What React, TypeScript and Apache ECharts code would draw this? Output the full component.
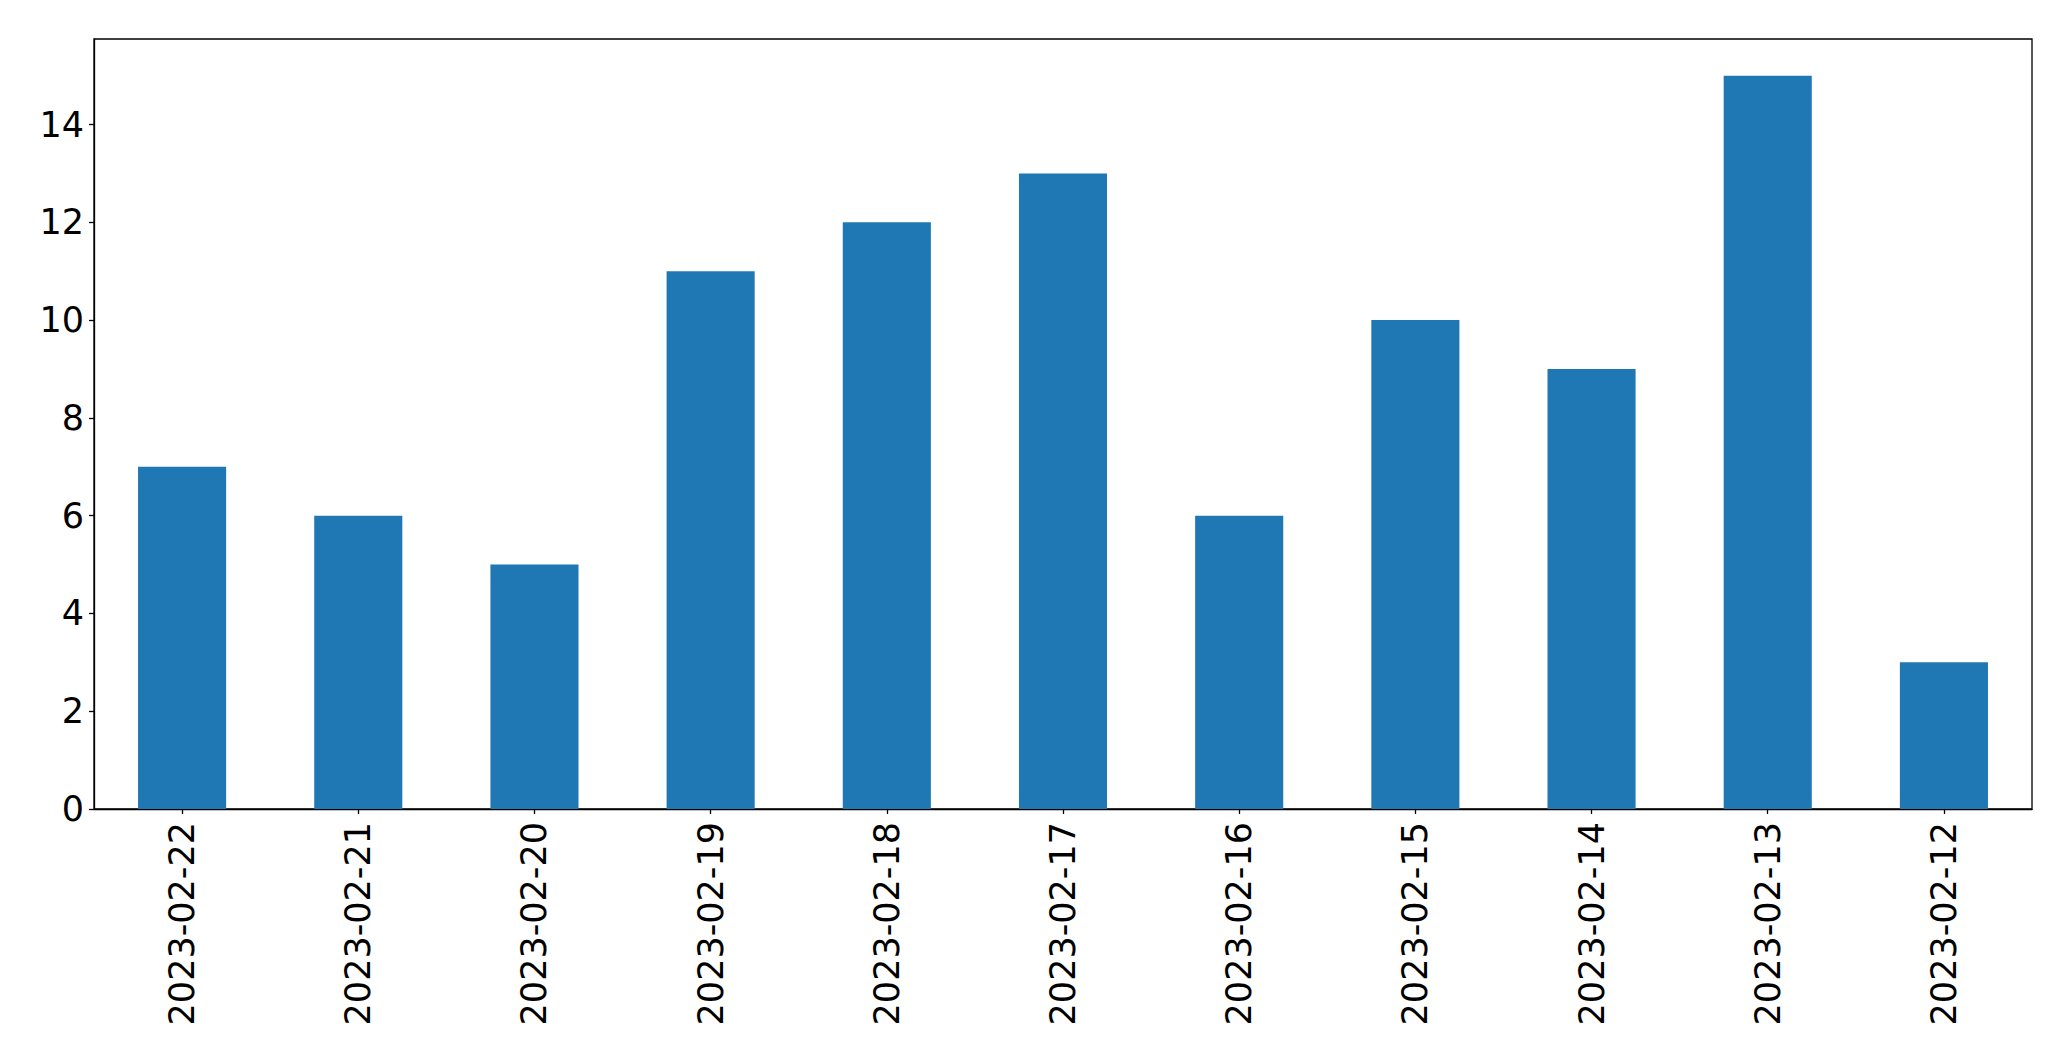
import React, { useEffect, useRef } from "react";
import * as echarts from "echarts";

const categories = [
  "2023-02-22", "2023-02-21", "2023-02-20", "2023-02-19", "2023-02-18",
  "2023-02-17", "2023-02-16", "2023-02-15", "2023-02-14", "2023-02-13", "2023-02-12",
];
const values = [7, 6, 5, 11, 12, 13, 6, 10, 9, 15, 3];
const yTicks = [0, 2, 4, 6, 8, 10, 12, 14];

export default function App() {
  const ref = useRef<HTMLDivElement>(null);
  useEffect(() => {
    if (!ref.current) return;
    const chart = echarts.init(ref.current, null, { renderer: "svg" });
    const font = "DejaVu Sans";
    chart.setOption({
      animation: false,
      backgroundColor: "#ffffff",
      grid: {
        left: 94,
        top: 39,
        right: 39,
        bottom: 252,
        show: true,
        borderColor: "#000000",
        borderWidth: 1.3,
        containLabel: false,
      },
      xAxis: {
        type: "category",
        data: categories,
        axisLine: { show: true, lineStyle: { color: "#000", width: 1.3 } },
        axisTick: { show: true, alignWithLabel: true, length: 5, lineStyle: { color: "#000", width: 1.3 } },
        axisLabel: {
          rotate: 90,
          interval: 0,
          margin: 13,
          fontFamily: font,
          fontSize: 35,
          color: "#000",
        },
        splitLine: { show: false },
      },
      yAxis: {
        type: "value",
        min: 0,
        max: 15.75,
        interval: 2,
        axisLine: { show: true, lineStyle: { color: "#000", width: 1.3 } },
        axisTick: { show: true, length: 5, lineStyle: { color: "#000", width: 1.3 } },
        axisLabel: {
          margin: 10,
          fontFamily: font,
          fontSize: 35,
          color: "#000",
          showMaxLabel: false,
          formatter: (v: number) => (yTicks.includes(v) ? String(v) : ""),
        },
        splitLine: { show: false },
      },
      series: [
        {
          type: "bar",
          data: values,
          barWidth: "50%",
          itemStyle: { color: "#1f77b4" },
        },
      ],
    });
    return () => chart.dispose();
  }, []);
  return (
    <div
      ref={ref}
      style={{ position: "fixed", left: 0, top: 0, width: 2071, height: 1061, background: "#fff" }}
    />
  );
}
